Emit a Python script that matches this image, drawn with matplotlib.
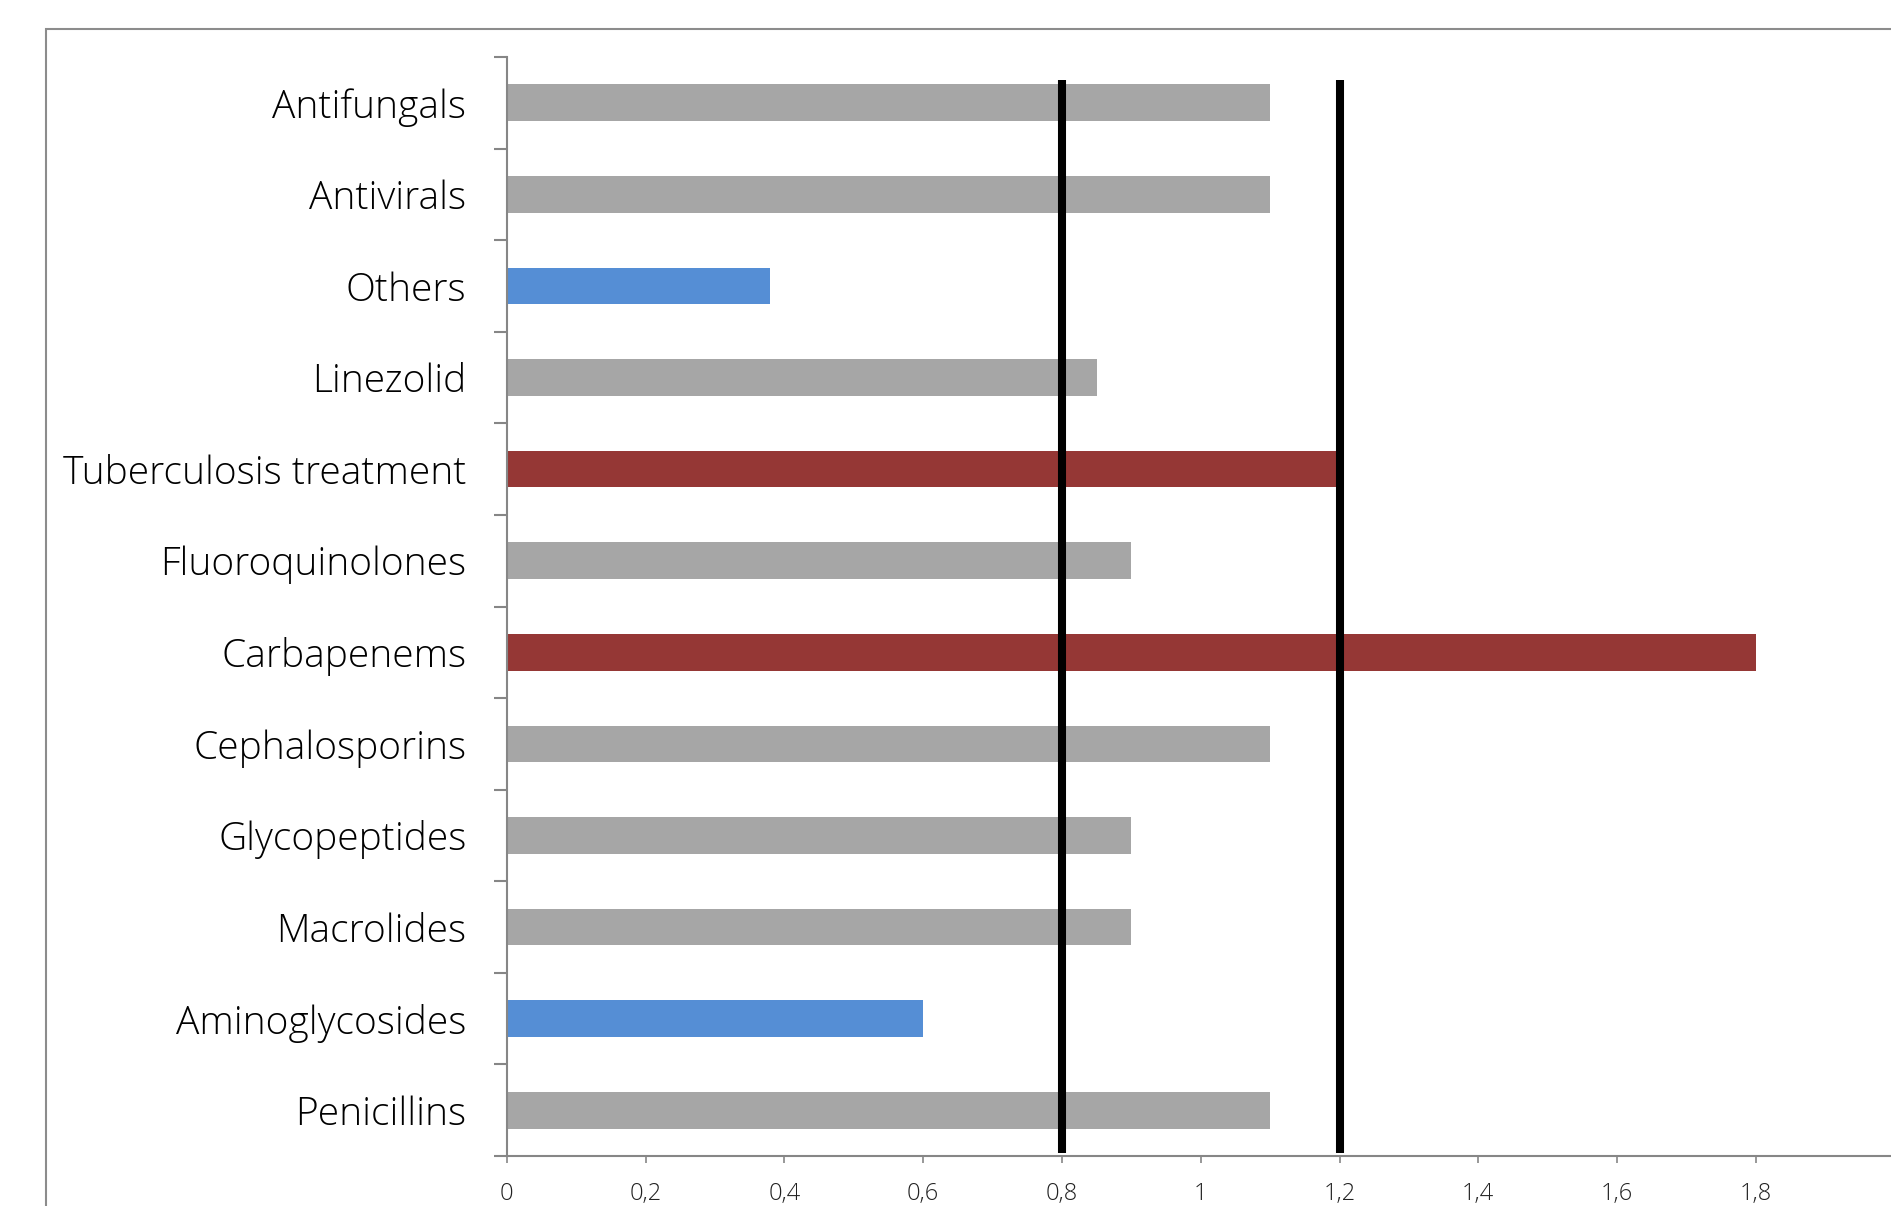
import matplotlib
matplotlib.use("Agg")
import matplotlib.pyplot as plt
from matplotlib.patches import Rectangle
from matplotlib import font_manager

# Antibiotic classes, bottom to top
categories = ["Penicillins", "Aminoglycosides", "Macrolides", "Glycopeptides",
              "Cephalosporins", "Carbapenems", "Fluoroquinolones",
              "Tuberculosis treatment", "Linezolid", "Others", "Antivirals",
              "Antifungals"]
values = [1.1, 0.6, 0.9, 0.9, 1.1, 1.8, 0.9, 1.2, 0.85, 0.38, 1.1, 1.1]
# colour group per class: low / normal / high
groups = ["normal", "low", "normal", "normal", "normal", "high", "normal",
          "high", "normal", "low", "normal", "normal"]
group_colors = {"low": "#558ED5", "normal": "#A6A6A6", "high": "#953735"}

# reference band limits
thresholds = [0.8, 1.2]
threshold_span = [-0.47, 11.25]

xticks = [0, 0.2, 0.4, 0.6, 0.8, 1.0, 1.2, 1.4, 1.6, 1.8]
xtick_labels = ["0", "0,2", "0,4", "0,6", "0,8", "1", "1,2", "1,4", "1,6", "1,8"]

avail = {f.name for f in font_manager.fontManager.ttflist}
family = [f for f in ["Open Sans", "Lato", "DejaVu Sans"] if f in avail]

W, H = 1891, 1206
fig = plt.figure(figsize=(W / 100, H / 100), dpi=100)
fig.patch.set_facecolor("white")

# outer chart frame (continues past the right and bottom edges)
fig.add_artist(Rectangle((46 / W, -0.1), 1.2, 1 - 29 / H + 0.1,
                         transform=fig.transFigure, fill=False,
                         edgecolor="#8C8C8C", linewidth=1.5))

left = 506.7 / W
bottom = 1 - 1156 / H
top = 1 - 57 / H
unit = 694 / W
ax = fig.add_axes([left, bottom, 2 * unit, top - bottom])

gray = "#868686"
ypos = list(range(len(categories)))
ax.barh(ypos, values, height=0.40,
        color=[group_colors[g] for g in groups], zorder=2)
for t in thresholds:
    ax.plot([t, t], threshold_span, color="black", linewidth=5.8,
            solid_capstyle="butt", zorder=3)

ax.set_xlim(0, 2)
ax.set_ylim(-0.5, len(categories) - 0.5)

for s in ["top", "right"]:
    ax.spines[s].set_visible(False)
for s in ["left", "bottom"]:
    ax.spines[s].set_color(gray)
    ax.spines[s].set_linewidth(1.5)

# category boundaries as major ticks, names on minor ticks
ax.set_yticks([i - 0.5 for i in range(len(categories) + 1)])
ax.set_yticklabels([])
ax.set_yticks(ypos, minor=True)
ax.set_yticklabels(categories, minor=True, fontsize=28, family=family,
                   fontweight="light", color="black")
ax.tick_params(axis="y", which="major", length=9.5, width=1.5, color=gray,
               direction="out")
ax.tick_params(axis="y", which="minor", length=0, pad=29)

ax.set_xticks(xticks)
ax.set_xticklabels(xtick_labels, fontsize=17, family=family,
                   fontweight="light", color="#222222")
ax.tick_params(axis="x", length=5, width=1.2, color=gray, direction="out",
               pad=14)

fig.savefig("out.png", dpi=100, facecolor="white")
